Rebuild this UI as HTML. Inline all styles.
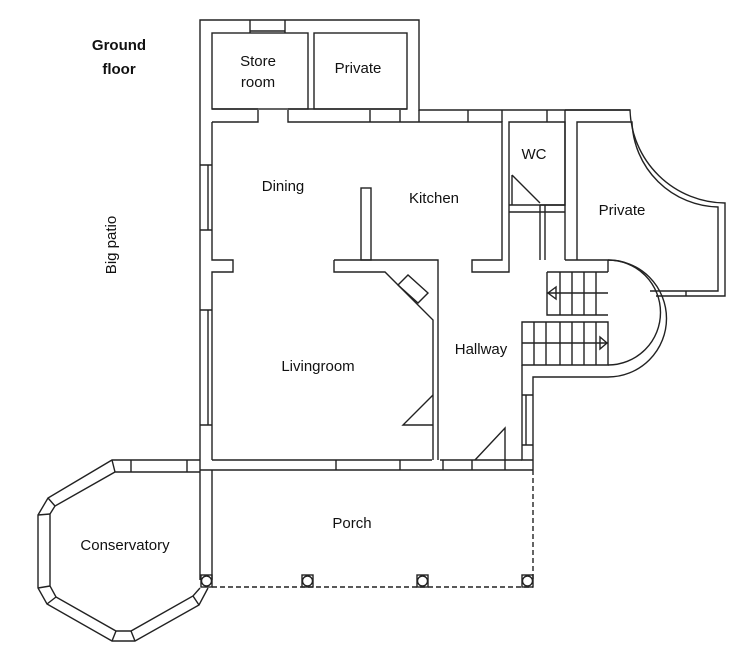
<!DOCTYPE html>
<html><head><meta charset="utf-8"><style>
html,body{margin:0;padding:0;background:#fff;}
svg{display:block;}
text{font-family:"Liberation Sans",sans-serif;font-size:15px;fill:#111;}
</style></head><body>
<svg width="745" height="667" viewBox="0 0 745 667" xmlns="http://www.w3.org/2000/svg">
<g fill="none" stroke="#222" stroke-width="1.4">
<path d="M200,460 V20 H419 V110 H630"/>
<rect x="212" y="33" width="96" height="76"/>
<rect x="314" y="33" width="93" height="76"/>
<path d="M250,20 V33 M285,20 V33 M250,31 H285"/>
<path d="M212,122 H258 V110 M288,110 V122 H502 V260 H472 V272 H509 V122 H565 V205 H509"/>
<path d="M212,109 H258 M288,109 H407 M370,110 V122 M400,110 V122 M419,110 V122 M468,110 V122 M502,110 V122 M547,110 V122"/>
<path d="M212,122 V260 H233 V272 H212 V460"/>
<path d="M200,165 H212 M200,230 H212 M200,310 H212 M200,425 H212"/>
<path d="M208,165 V230 M208,310 V425"/>
<rect x="361" y="188" width="10" height="72"/>
<path d="M334,260 H438 V460 M334,260 V272 H385 L433,320 V460"/>
<path d="M398,285 l10,-10 l20,18 l-10,10 z"/>
<path d="M433,395 L403,425 H433"/>
<path d="M512,175 V205 M512,175 L540,203"/>
<path d="M509,212 H565 M540,205 V260 M545,205 V260 M540,205 H565 V260 M565,110 V260"/>
<path d="M577,260 V122 H632 A88,88 0 0 0 718,207 V291 H650"/>
<path d="M565,110 H630 A96,96 0 0 0 725,203 V296 H656"/>
<path d="M686,291 V296"/>
<path d="M547,272 H608 M547,272 V315 H608 M522,322 H608 V365 H522 Z"/>
<path d="M560,272 V315 M572,272 V315 M584,272 V315 M596,272 V315 M547,293 H608"/>
<path d="M534,322 V365 M546,322 V365 M560,322 V365 M572,322 V365 M584,322 V365 M596,322 V365 M522,343 H608"/>
<path d="M556,287 L548,293 L556,299 Z M600,337 L607,343 L600,349 Z"/>
<path d="M577,260 H608 A46,46 0 0 1 608,365 M608,260 V272"/>
<path d="M565,260 H577 M608,260 A58,58 0 0 1 608,377 H533 V470"/>
<path d="M522,365 V460 H533 M522,395 H533 M522,445 H533 M526,395 V445"/>
<path d="M475,460 L505,428 V460"/>
<path d="M212,460 H432 M440,460 H522 M200,470 H533 M336,460 V470 M400,460 V470 M443,460 V470 M472,460 V470 M505,460 V470"/>
<path d="M200,460 V580 M212,470 V580" />
<path d="M212,587 H533 M533,470 V580" stroke-dasharray="5,3"/>
<rect x="201" y="575" width="11" height="12"/><rect x="302" y="575" width="11" height="12"/>
<rect x="417" y="575" width="11" height="12"/><rect x="522" y="575" width="11" height="12"/>
<circle cx="206.5" cy="581" r="5"/><circle cx="307.5" cy="581" r="5"/>
<circle cx="422.5" cy="581" r="5"/><circle cx="527.5" cy="581" r="5"/>
<path d="M200,460 H112 L48,498 L38,515 V588 L47,604 L112,641 H135 L199,605 L208,588"/>
<path d="M200,472 H115 L55,506 L50,514 V586 L56,597 L116,631 H131 L193,596 L200,588"/>
<path d="M112,460 L115,472 M48,498 L55,506 M38,515 L50,514 M38,588 L50,586 M47,604 L56,597 M112,641 L116,631 M135,641 L131,631 M199,605 L193,596 M131,460 V472 M187,460 V472"/>
</g>
<text x="119" y="50" text-anchor="middle" style="font-weight:bold;font-size:15px">Ground</text>
<text x="119" y="74" text-anchor="middle" style="font-weight:bold;font-size:15px">floor</text>
<text transform="translate(116,245) rotate(-90)" text-anchor="middle">Big patio</text>
<text x="258" y="66" text-anchor="middle">Store</text>
<text x="258" y="87" text-anchor="middle">room</text>
<text x="358" y="73" text-anchor="middle">Private</text>
<text x="283" y="191" text-anchor="middle">Dining</text>
<text x="434" y="203" text-anchor="middle">Kitchen</text>
<text x="534" y="159" text-anchor="middle">WC</text>
<text x="622" y="215" text-anchor="middle">Private</text>
<text x="481" y="354" text-anchor="middle">Hallway</text>
<text x="318" y="371" text-anchor="middle">Livingroom</text>
<text x="352" y="528" text-anchor="middle">Porch</text>
<text x="125" y="550" text-anchor="middle">Conservatory</text>
</svg>
</body></html>
